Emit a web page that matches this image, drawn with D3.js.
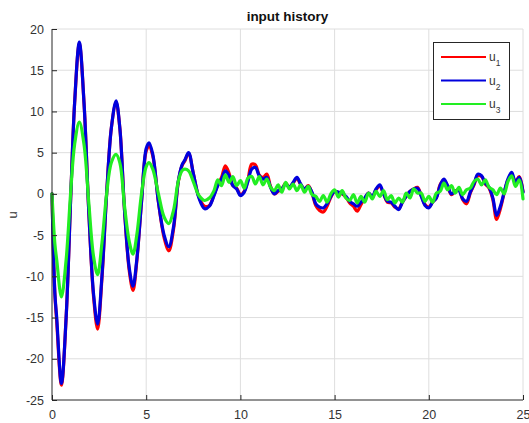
<!DOCTYPE html>
<html>
<head>
<meta charset="utf-8">
<script src="https://cdn.jsdelivr.net/npm/d3@7/dist/d3.min.js"></script>
<style>
  html, body { margin: 0; padding: 0; background: #fff; }
  svg { display: block; font-family: "Liberation Sans", Arial, sans-serif; }
</style>
</head>
<body>
<svg id="chart" width="529" height="423"></svg>
<script>
// ---- data ----
const time = [0, 0.15, 0.25, 0.5, 0.75, 1.0, 1.2, 1.45, 1.7, 1.95, 2.2, 2.42, 2.65, 2.9, 3.15, 3.4, 3.6, 3.85, 4.1, 4.3, 4.5, 4.75, 5.0, 5.15, 5.35, 5.65, 5.95, 6.2, 6.45, 6.7, 6.9, 7.05, 7.25, 7.5, 7.8, 8.1, 8.35,
  8.6, 8.8, 9.0, 9.2, 9.4, 9.6, 9.8, 10.0, 10.2, 10.4, 10.6, 10.8, 11.0, 11.2, 11.4, 11.6, 11.8, 12.0, 12.2, 12.4, 12.6, 12.8, 13.0, 13.2, 13.4, 13.6, 13.8, 14.0, 14.2, 14.4, 14.6, 14.8, 15.0, 15.2, 15.4, 15.6, 15.8, 16.0, 16.2, 16.4, 16.6, 16.8, 17.0, 17.2, 17.4, 17.6, 17.8, 18.0, 18.2, 18.4, 18.6, 18.8, 19.0, 19.2, 19.4, 19.6, 19.8, 20.0, 20.2, 20.4, 20.6, 20.8, 21.0, 21.2, 21.4, 21.6, 21.8, 22.0, 22.2, 22.4, 22.6, 22.8, 23.0, 23.2, 23.4, 23.6, 23.8, 24.0, 24.2, 24.4, 24.6, 24.8, 25.0];

const u1 = [0, -12, -15.5, -23.2, -15, 0, 11, 18.2, 11, -2, -12.3, -16.4, -10.3, 0, 8, 11.1, 8, -2, -9.3, -11.7, -8.2, -1, 5.2, 5.8, 4.6, -1, -5.3, -6.9, -4.3, 1.4, 3.4, 4.0, 4.9, 2.5, -0.4, -1.5, -1.4,
  -0.1, 1.1, 2.0, 3.4, 2.5, 1.0, 0.7, -0.1, 0.3, 1.7, 3.6, 3.5, 2.3, 2.0, 2.4, 0.9, 0.0, 0.3, 0.6, 1.3, 0.8, 1.3, 1.9, 1.1, 0.6, 1.0, 0.1, -1.4, -2.0, -2.2, -1.5, -0.4, 0.3, 0.2, 0.0, -0.4, -1.1, -1.5, -2.1, -1.3, -0.6, 0.1, -0.4, 0.5, 0.9, 0.0, -1.0, -1.1, -1.6, -1.8, -1.0, -0.3, 0.3, 0.6, 0.8, -0.2, -1.3, -1.6, -1.0, -0.5, 1.1, 1.7, 0.9, -0.1, 0.3, 0.5, -0.7, -1.2, 0.1, 1.1, 2.2, 2.1, 1.2, 0.7, -0.7, -3.1, -1.8, 0.1, 1.7, 2.3, 1.5, 2.1, 0.3];

const u2 = [0, -12, -15, -23, -15, 0, 11, 18.4, 11, -2, -12, -15.8, -10, 0, 8, 11.3, 8, -2, -9, -11.2, -8, -1, 5.5, 6.2, 4.8, -1, -5, -6.4, -4, 1.5, 3.5, 4.1, 5.0, 2.5, -0.5, -1.8, -1.5,
  -0.2, 1.0, 1.8, 2.8, 2.2, 1.0, 0.6, -0.2, 0.2, 1.5, 3.0, 3.2, 2.2, 1.8, 2.0, 0.8, 0.0, 0.4, 0.6, 1.2, 0.8, 1.4, 2.0, 1.2, 0.6, 0.9, 0.2, -1.2, -1.6, -1.7, -1.2, -0.3, 0.3, 0.2, 0.1, -0.3, -0.9, -1.2, -1.5, -1.0, -0.5, 0.1, -0.3, 0.6, 1.1, 0.0, -0.9, -1.0, -1.5, -1.9, -1.0, -0.3, 0.3, 0.6, 0.7, -0.3, -1.4, -1.7, -1.0, -0.5, 1.0, 1.8, 1.0, 0.0, 0.3, 0.4, -0.6, -0.9, 0.2, 1.2, 2.4, 2.2, 1.3, 0.8, -0.5, -2.6, -1.5, 0.2, 1.8, 2.6, 1.4, 2.0, 0.2];

const u3 = [0, -6, -8, -12.5, -8, 0.5, 6, 8.7, 6, -1, -7.5, -9.8, -6, 0, 3.8, 4.8, 3.8, -1.5, -5.8, -7.3, -5, 0, 3.3, 3.8, 3, 0, -2.8, -3.6, -2, 1.5, 2.8, 3.0, 2.8, 1.5, -0.2, -0.8, -0.5,
  0.4, 1.7, 1.0, 2.3, 1.4, 2.1, 1.0, 1.6, 0.7, 1.9, 2.1, 1.2, 2.1, 1.1, 1.8, 0.8, 0.4, 1.1, 0.2, 1.4, 0.6, 1.2, 0.4, 1.1, 0.2, 0.9, -0.1, -0.3, -0.9, -0.2, -1.0, 0.0, 0.5, -0.4, 0.4, -0.5, -0.8, -0.1, -1.1, -0.3, -1.0, 0.1, -0.6, 0.3, -0.3, 0.4, -0.7, -0.2, -1.1, -0.5, -1.0, 0.1, -0.5, 0.6, 0.1, 0.1, -0.9, -0.3, -1.0, 0.1, 0.3, 1.3, 0.5, 1.0, 0.1, 0.8, -0.1, 0.5, 0.7, 1.5, 1.8, 1.1, 1.7, 0.8, 0.5, -0.1, 0.7, 0.0, 1.5, 2.2, 0.9, 1.7, -0.6];

const xTicks = [0, 5, 10, 15, 20, 25];
const yTicks = [-25, -20, -15, -10, -5, 0, 5, 10, 15, 20];
const seriesNames = ["u1", "u2", "u3"];
const seriesColors = ["#ff0000", "#0000dd", "#22ee22"];

// ---- layout ----
const svg = d3.select("#chart");
const m = { left: 52, right: 523, top: 29, bottom: 400 };
const x = d3.scaleLinear().domain([0, 25]).range([m.left, m.right]);
const y = d3.scaleLinear().domain([-25, 20]).range([m.bottom, m.top]);
const textColor = "#262626";

// grid
const g = svg.append("g");
g.selectAll(".vg").data(xTicks.filter(d => d !== 0)).enter().append("line")
  .attr("x1", d => x(d)).attr("x2", d => x(d))
  .attr("y1", m.top).attr("y2", m.bottom)
  .attr("stroke", "#dedede").attr("stroke-width", 1);
g.selectAll(".hg").data(yTicks.filter(d => d !== -25)).enter().append("line")
  .attr("x1", m.left).attr("x2", m.right)
  .attr("y1", d => y(d)).attr("y2", d => y(d))
  .attr("stroke", "#dedede").attr("stroke-width", 1);

// lines
const series = [u1, u2, u3];
const line = d3.line().x((d, i) => x(time[i])).y(d => y(d)).curve(d3.curveCatmullRom.alpha(0.5));
series.forEach((s, k) => {
  svg.append("path").datum(s)
    .attr("d", line)
    .attr("fill", "none")
    .attr("stroke", seriesColors[k])
    .attr("stroke-width", 3.2)
    .attr("stroke-linejoin", "round")
    .attr("stroke-linecap", "round");
});

// axes
const xAxis = d3.axisBottom(x).tickValues(xTicks).tickSize(-5).tickPadding(10).tickFormat(d3.format("d"));
const yAxis = d3.axisLeft(y).tickValues(yTicks).tickSize(-5).tickPadding(8).tickFormat(d3.format("d"));
const gx = svg.append("g").attr("transform", `translate(0,${m.bottom})`).call(xAxis);
const gy = svg.append("g").attr("transform", `translate(${m.left},0)`).call(yAxis);
[gx, gy].forEach(a => {
  a.select(".domain").attr("stroke", textColor).attr("stroke-width", 1);
  a.selectAll(".tick line").attr("stroke", textColor);
  a.selectAll(".tick text").attr("fill", "#333").style("font-size", "12.5px").style("font-family", "'Liberation Sans', Arial, sans-serif");
});
gx.select(".domain").attr("d", `M${m.left},0H${m.right}`);
gy.select(".domain").attr("d", `M0,${m.bottom}V${m.top}`);
gy.selectAll(".tick text").text(d => d < 0 ? "-" + Math.abs(d) : d);

// title
svg.append("text").attr("x", (m.left + m.right) / 2).attr("y", 21)
  .attr("text-anchor", "middle").attr("font-weight", "bold")
  .style("font-size", "13.5px").attr("fill", "#111").text("input history");

// y label
svg.append("text").attr("transform", "translate(17,215) rotate(-90)")
  .attr("text-anchor", "middle").style("font-size", "13px").attr("fill", "#333").text("u");

// legend
const lg = svg.append("g");
lg.append("rect").attr("x", 433.5).attr("y", 42.5).attr("width", 76).attr("height", 77)
  .attr("fill", "#fff").attr("stroke", textColor).attr("stroke-width", 1);
seriesNames.forEach((nm, k) => {
  const yy = 57 + k * 23.5;
  lg.append("line").attr("x1", 441).attr("x2", 486).attr("y1", yy).attr("y2", yy)
    .attr("stroke", seriesColors[k]).attr("stroke-width", 2.2);
  const t = lg.append("text").attr("x", 489).attr("y", yy + 4).style("font-size", "12px").attr("fill", "#333");
  t.append("tspan").text(nm.charAt(0));
  t.append("tspan").attr("dy", 5).style("font-size", "8.5px").text(nm.slice(1));
});
</script>
</body>
</html>
